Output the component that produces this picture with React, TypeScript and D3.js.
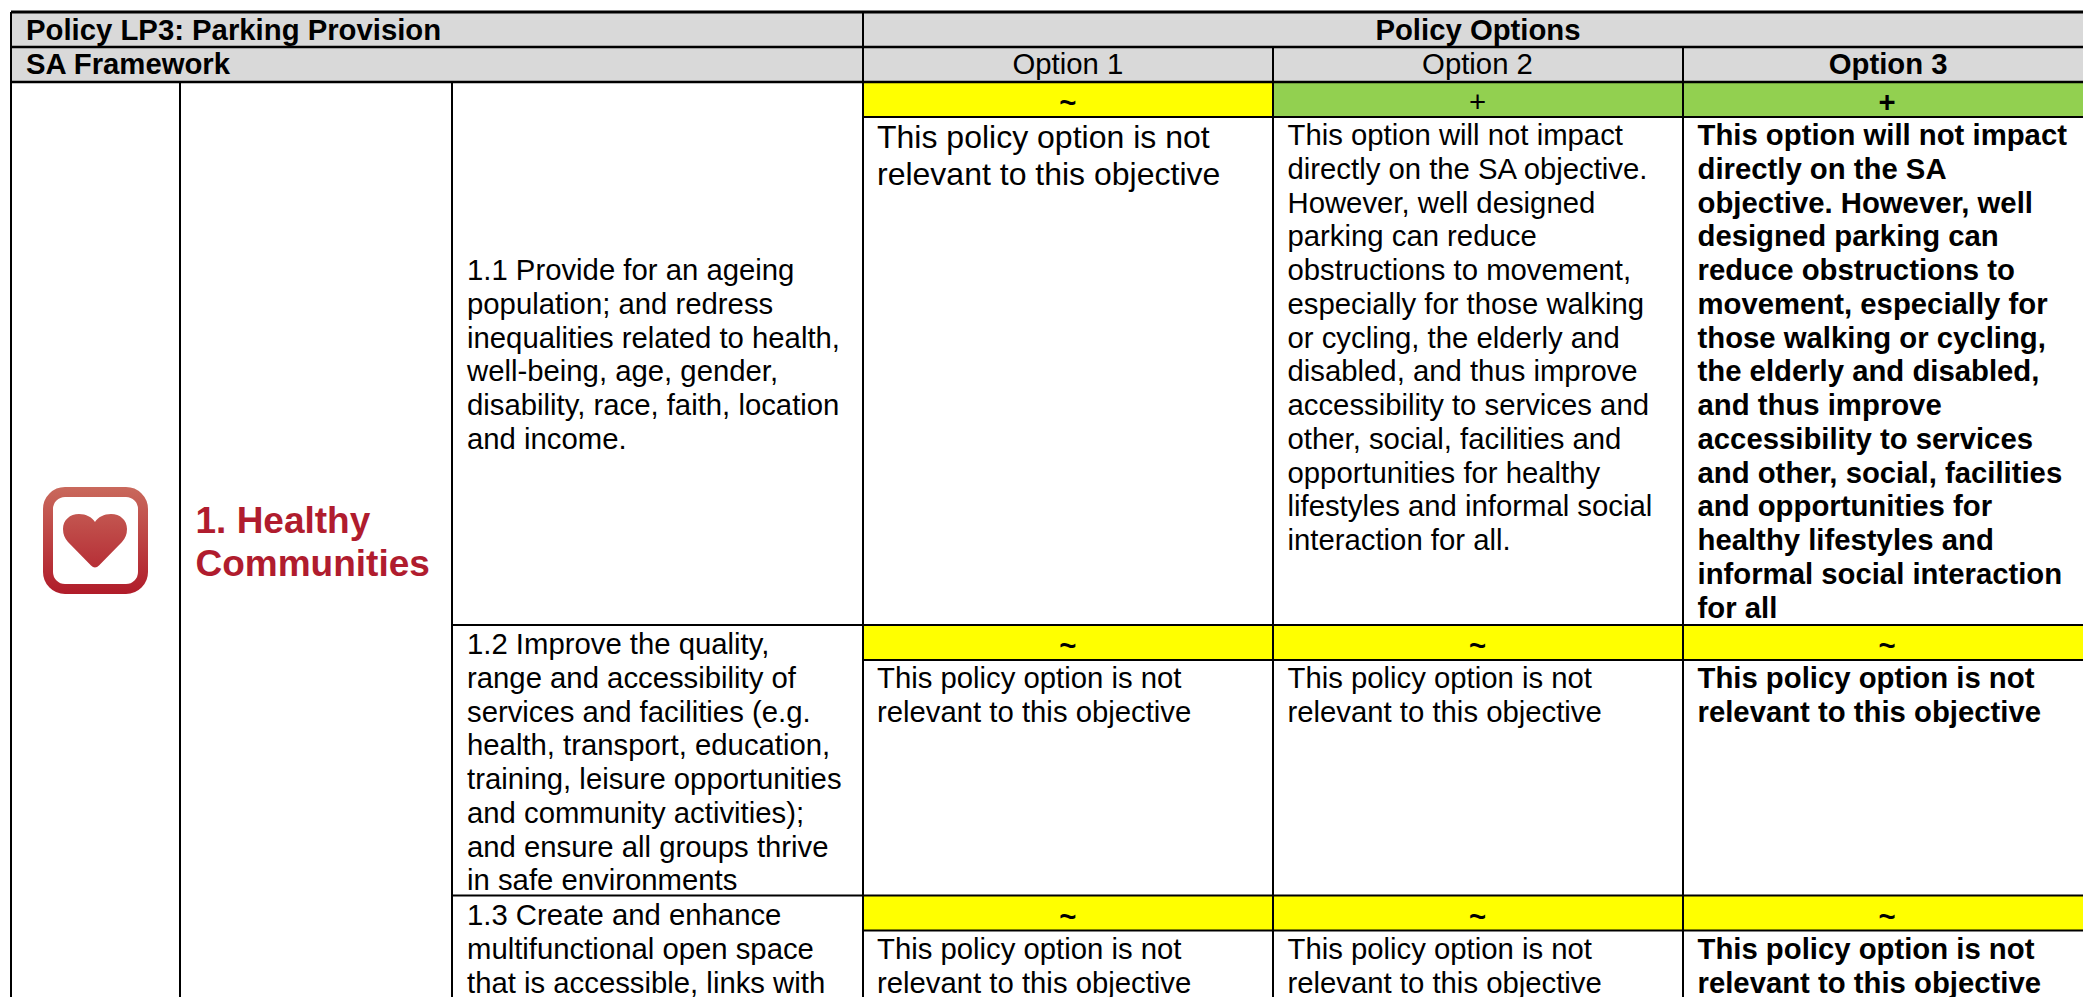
import React, { useEffect, useRef } from 'react';
import * as d3 from 'd3';

const width = 2083;
const height = 997;

// table text
const titleLeft = 'Policy LP3: Parking Provision';
const titleRight = 'Policy Options';
const frameworkLabel = 'SA Framework';
const optionNames = ['Option 1', 'Option 2', 'Option 3'];
const sectionLines = ['1. Healthy', 'Communities'];

const objective1 = [
  '1.1 Provide for an ageing',
  'population; and redress',
  'inequalities related to health,',
  'well-being, age, gender,',
  'disability, race, faith, location',
  'and income.',
];
const objective2 = [
  '1.2 Improve the quality,',
  'range and accessibility of',
  'services and facilities (e.g.',
  'health, transport, education,',
  'training, leisure opportunities',
  'and community activities);',
  'and ensure all groups thrive',
  'in safe environments',
];
const objective3 = [
  '1.3 Create and enhance',
  'multifunctional open space',
  'that is accessible, links with',
];

const notRelevant = ['This policy option is not', 'relevant to this objective'];
const option2Row1 = [
  'This option will not impact',
  'directly on the SA objective.',
  'However, well designed',
  'parking can reduce',
  'obstructions to movement,',
  'especially for those walking',
  'or cycling, the elderly and',
  'disabled, and thus improve',
  'accessibility to services and',
  'other, social, facilities and',
  'opportunities for healthy',
  'lifestyles and informal social',
  'interaction for all.',
];
const option3Row1 = [
  'This option will not impact',
  'directly on the SA',
  'objective. However, well',
  'designed parking can',
  'reduce obstructions to',
  'movement, especially for',
  'those walking or cycling,',
  'the elderly and disabled,',
  'and thus improve',
  'accessibility to services',
  'and other, social, facilities',
  'and opportunities for',
  'healthy lifestyles and',
  'informal social interaction',
  'for all',
];

const ratingsRow1 = ['~', '+', '+'];
const ratingsRow2 = ['~', '~', '~'];
const ratingsRow3 = ['~', '~', '~'];

// layout
const colEdges = [11, 180, 452, 863, 1273, 1683, 2092];
const headerLines = [12, 47, 82];
const rowTops = [82, 625, 895.5];
const ratingH = 35;
const lineH = 33.75;
const font = '"Liberation Sans", Arial, sans-serif';

const ratingColor = d3.scaleOrdinal<string, string>().domain(['~', '+']).range(['#ffff00', '#92d050']);
const optionX = d3.scaleBand<string>().domain(optionNames).range([colEdges[3], colEdges[6]]);

export default function App() {
  const svgRef = useRef<SVGSVGElement>(null);

  useEffect(() => {
    if (!svgRef.current) return;
    const svg = d3.select(svgRef.current);
    svg.selectAll('*').remove();

    const defs = svg.append('defs');
    const grad = defs.append('linearGradient')
      .attr('id', 'iconGrad')
      .attr('gradientUnits', 'userSpaceOnUse')
      .attr('x1', 0).attr('x2', 0).attr('y1', 487).attr('y2', 594);
    grad.append('stop').attr('offset', '0%').attr('stop-color', '#c9695c');
    grad.append('stop').attr('offset', '100%').attr('stop-color', '#b01c2a');

    // header band
    svg.append('rect')
      .attr('x', colEdges[0]).attr('y', headerLines[0])
      .attr('width', width - colEdges[0]).attr('height', headerLines[2] - headerLines[0])
      .attr('fill', '#d9d9d9');

    // rating bands
    const ratingRows = [ratingsRow1, ratingsRow2, ratingsRow3];
    ratingRows.forEach((ratings, r) => {
      ratings.forEach((rating, c) => {
        const x = optionX(optionNames[c])!;
        svg.append('rect')
          .attr('x', x).attr('y', rowTops[r])
          .attr('width', optionX.bandwidth()).attr('height', ratingH)
          .attr('fill', ratingColor(rating));
        svg.append('text')
          .attr('x', x + optionX.bandwidth() / 2)
          .attr('y', rowTops[r] + 30)
          .attr('text-anchor', 'middle')
          .attr('font-size', 29.3)
          .attr('font-weight', c === 2 || rating === '~' ? 'bold' : 'normal')
          .text(rating);
      });
    });

    // grid lines
    const hLine = (x1: number, x2: number, y: number, w = 2) =>
      svg.append('line').attr('x1', x1).attr('x2', x2).attr('y1', y).attr('y2', y)
        .attr('stroke', '#000').attr('stroke-width', w);
    const vLine = (x: number, y1: number, y2: number, w = 2) =>
      svg.append('line').attr('x1', x).attr('x2', x).attr('y1', y1).attr('y2', y2)
        .attr('stroke', '#000').attr('stroke-width', w);

    hLine(colEdges[0], width, headerLines[0], 3);
    hLine(colEdges[0], width, headerLines[1], 2.5);
    hLine(colEdges[0], width, headerLines[2], 2.5);
    vLine(colEdges[0], headerLines[0], height);
    vLine(colEdges[1], headerLines[2], height);
    vLine(colEdges[2], headerLines[2], height);
    vLine(colEdges[3], headerLines[0], height);
    vLine(colEdges[4], headerLines[1], height);
    vLine(colEdges[5], headerLines[1], height);
    rowTops.slice(1).forEach(y => hLine(colEdges[2], width, y));
    rowTops.forEach(y => hLine(colEdges[3], width, y + ratingH));

    // text blocks
    const block = (lines: string[], x: number, y: number, opts: { size?: number; lh?: number; bold?: boolean; fill?: string } = {}) => {
      const { size = 29.3, lh = lineH, bold = false, fill = '#000' } = opts;
      svg.append('g')
        .selectAll('text')
        .data(lines)
        .join('text')
        .attr('x', x)
        .attr('y', (_, i) => y + i * lh)
        .attr('font-size', size)
        .attr('font-weight', bold ? 'bold' : 'normal')
        .attr('fill', fill)
        .text(d => d);
    };

    block([titleLeft], 26, 39.5, { bold: true });
    block([frameworkLabel], 26, 74, { bold: true });
    svg.append('text').attr('x', 1478).attr('y', 39.5).attr('text-anchor', 'middle')
      .attr('font-size', 29.3).attr('font-weight', 'bold').text(titleRight);
    optionNames.forEach((name, i) => {
      svg.append('text')
        .attr('x', optionX(name)! + optionX.bandwidth() / 2 + (i === 2 ? 1 : 0))
        .attr('y', 74)
        .attr('text-anchor', 'middle')
        .attr('font-size', 29.3)
        .attr('font-weight', i === 2 ? 'bold' : 'normal')
        .text(name);
    });

    // icon
    svg.append('rect')
      .attr('x', 48).attr('y', 492).attr('width', 95).attr('height', 97).attr('rx', 17)
      .attr('fill', 'none').attr('stroke', 'url(#iconGrad)').attr('stroke-width', 10);
    svg.append('path')
      .attr('d', 'M95 567.5 Q93 567.5 91 565.5 L68 542 Q63 536.5 63 529 C63 520 70 514 79 514 C86 514 92 517 95 522 C98 517 104 514 111 514 C120 514 127 520 127 529 Q127 536.5 122 542 L99 565.5 Q97 567.5 95 567.5 Z')
      .attr('fill', 'url(#iconGrad)');

    block(sectionLines, 195.5, 533, { size: 37, lh: 42.5, bold: true, fill: '#b01c2e' });

    // objectives
    block(objective1, 467, 280);
    block(objective2, 467, 654);
    block(objective3, 467, 925);

    // option assessments
    block(notRelevant, 877, 147.5, { size: 32, lh: 37 });
    block(option2Row1, 1287.5, 145);
    block(option3Row1, 1697.5, 145, { bold: true });

    const rowTwoBase = 688;
    const rowThreeBase = 959;
    [rowTwoBase, rowThreeBase].forEach(y => {
      block(notRelevant, 877, y);
      block(notRelevant, 1287.5, y);
      block(notRelevant, 1697.5, y, { bold: true });
    });
  }, []);

  return (
    <svg
      ref={svgRef}
      width={width}
      height={height}
      viewBox={`0 0 ${width} ${height}`}
      style={{ position: 'fixed', left: 0, top: 0, background: '#fff', fontFamily: font }}
    />
  );
}
